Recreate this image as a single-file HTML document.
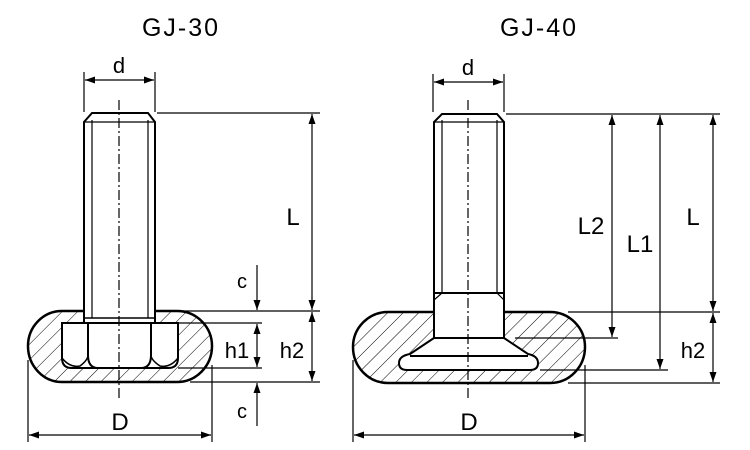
<!DOCTYPE html>
<html><head><style>
html,body{margin:0;padding:0;background:#fff;}
svg{display:block;}
text{font-family:"Liberation Sans",sans-serif;fill:#000;}
</style></head><body>
<svg width="750" height="450" viewBox="0 0 750 450" xmlns="http://www.w3.org/2000/svg">
<defs>
<pattern id="h" patternUnits="userSpaceOnUse" width="11" height="11" patternTransform="rotate(45)">
<line x1="0" y1="0" x2="0" y2="11" stroke="#000" stroke-width="1"/>
</pattern>
<marker id="a" viewBox="0 0 10 10" refX="10" refY="5" markerWidth="10" markerHeight="10" markerUnits="userSpaceOnUse" orient="auto-start-reverse">
<path d="M0,1.5 L10,5 L0,8.5 z" fill="#000"/>
</marker>
</defs>
<text x="181" y="36" font-size="25" letter-spacing="2" text-anchor="middle">GJ-30</text>
<text x="539" y="36" font-size="25" letter-spacing="2" text-anchor="middle">GJ-40</text>

<!-- GJ-30 base -->
<path d="M62,311 H177 A35,35 0 0 1 212,346 A35,36 0 0 1 177,382 H62 A34,36 0 0 1 28,346 A34,35 0 0 1 62,311 Z" fill="url(#h)" stroke="#000" stroke-width="2.5"/>
<path d="M62,323 H178 V358 Q178,368 168,368 H72 Q62,368 62,358 Z" fill="#fff" stroke="#000" stroke-width="2"/>
<rect x="84" y="305" width="71" height="18" fill="#fff"/>
<g fill="none" stroke="#000" stroke-width="2">
<path d="M88,323 V355 Q88,368 98,368 M151,323 V355 Q151,368 141,368"/>
<path d="M62,358 Q70,368 80,366 Q88,360 88,355 M178,358 Q170,368 160,366 Q151,360 151,355" stroke-width="1.5"/>
<line x1="84" y1="323" x2="155" y2="323"/>
<line x1="84" y1="318" x2="155" y2="318" stroke-width="1.5"/>
<path d="M84,323 V122 L92,113 H148 L155,122 V323"/>
</g>
<g stroke="#000" stroke-width="1.2" fill="none">
<line x1="92" y1="120" x2="92" y2="318"/><line x1="148" y1="120" x2="148" y2="318"/>
<line x1="84" y1="122" x2="155" y2="122"/>
<line x1="119" y1="100" x2="119" y2="400" stroke-dasharray="10,3,2,3"/>
<line x1="84" y1="72" x2="84" y2="112"/><line x1="155" y1="72" x2="155" y2="112"/>
<line x1="85" y1="80" x2="154" y2="80" marker-start="url(#a)" marker-end="url(#a)"/>
<line x1="157" y1="113" x2="320" y2="113"/>
<line x1="312" y1="114" x2="312" y2="310" marker-start="url(#a)" marker-end="url(#a)"/>
<line x1="312" y1="312" x2="312" y2="381" marker-start="url(#a)" marker-end="url(#a)"/>
<line x1="178" y1="311" x2="320" y2="311"/>
<line x1="178" y1="323" x2="262" y2="323"/>
<line x1="178" y1="368" x2="262" y2="368"/>
<line x1="190" y1="382" x2="320" y2="382"/>
<line x1="257" y1="324" x2="257" y2="367" marker-start="url(#a)" marker-end="url(#a)"/>
<line x1="257" y1="265" x2="257" y2="310" marker-end="url(#a)"/>
<line x1="257" y1="426" x2="257" y2="383" marker-end="url(#a)"/>
<line x1="28" y1="360" x2="28" y2="442"/><line x1="212" y1="365" x2="212" y2="442"/>
<line x1="29" y1="435" x2="211" y2="435" marker-start="url(#a)" marker-end="url(#a)"/>
</g>
<text x="293" y="225" font-size="24" text-anchor="middle">L</text>
<text x="242" y="288" font-size="20" text-anchor="middle">c</text>
<text x="237" y="358" font-size="22" text-anchor="middle">h1</text>
<text x="292" y="358" font-size="22" text-anchor="middle">h2</text>
<text x="242" y="418" font-size="20" text-anchor="middle">c</text>
<text x="120" y="430" font-size="24" text-anchor="middle">D</text>
<text x="119" y="73" font-size="22" text-anchor="middle">d</text>

<!-- GJ-40 base -->
<path d="M388,312 H550 A35,35 0 0 1 585,347 A35,36 0 0 1 550,383 H388 A35,36 0 0 1 353,347 A35,35 0 0 1 388,312 Z" fill="url(#h)" stroke="#000" stroke-width="2.5"/>
<path d="M434,293 H504 V338 L528,354 Q538,356 538,363 Q538,370 530,370 H406 Q399,370 399,363 Q399,356 410,354 L434,338 Z" fill="#fff" stroke="none"/>
<g fill="none" stroke="#000" stroke-width="2">
<path d="M434,338 L410,354 Q399,356 399,363 Q399,370 407,370 H530 Q538,370 538,363 Q538,356 528,354 L504,338"/>
<line x1="410" y1="356" x2="528" y2="356"/>
<line x1="434" y1="338" x2="504" y2="338"/>
<path d="M434,338 V122 L442,114 H497 L504,122 V338"/>
<line x1="434" y1="293" x2="504" y2="293"/>
</g>
<g stroke="#000" stroke-width="1.2" fill="none">
<line x1="442" y1="120" x2="442" y2="293"/><line x1="497" y1="120" x2="497" y2="293"/>
<line x1="434" y1="122" x2="504" y2="122"/>
<line x1="434" y1="300" x2="442" y2="293"/><line x1="504" y1="300" x2="497" y2="293"/>
<line x1="468" y1="100" x2="468" y2="398" stroke-dasharray="10,3,2,3"/>
<line x1="433" y1="74" x2="433" y2="112"/><line x1="504" y1="74" x2="504" y2="112"/>
<line x1="434" y1="82" x2="503" y2="82" marker-start="url(#a)" marker-end="url(#a)"/>
<line x1="506" y1="114" x2="720" y2="114"/>
<line x1="568" y1="312" x2="720" y2="312"/>
<line x1="515" y1="338" x2="618" y2="338"/>
<line x1="540" y1="370" x2="668" y2="370"/>
<line x1="568" y1="383" x2="720" y2="383"/>
<line x1="612" y1="115" x2="612" y2="337" marker-start="url(#a)" marker-end="url(#a)"/>
<line x1="660" y1="115" x2="660" y2="369" marker-start="url(#a)" marker-end="url(#a)"/>
<line x1="713" y1="115" x2="713" y2="311" marker-start="url(#a)" marker-end="url(#a)"/>
<line x1="713" y1="313" x2="713" y2="382" marker-start="url(#a)" marker-end="url(#a)"/>
<line x1="353" y1="360" x2="353" y2="442"/><line x1="585" y1="365" x2="585" y2="442"/>
<line x1="354" y1="435" x2="584" y2="435" marker-start="url(#a)" marker-end="url(#a)"/>
</g>
<text x="591" y="234" font-size="24" text-anchor="middle">L2</text>
<text x="640" y="252" font-size="24" text-anchor="middle">L1</text>
<text x="693" y="225" font-size="24" text-anchor="middle">L</text>
<text x="693" y="358" font-size="22" text-anchor="middle">h2</text>
<text x="469" y="430" font-size="24" text-anchor="middle">D</text>
<text x="468" y="75" font-size="22" text-anchor="middle">d</text>
</svg>
</body></html>
